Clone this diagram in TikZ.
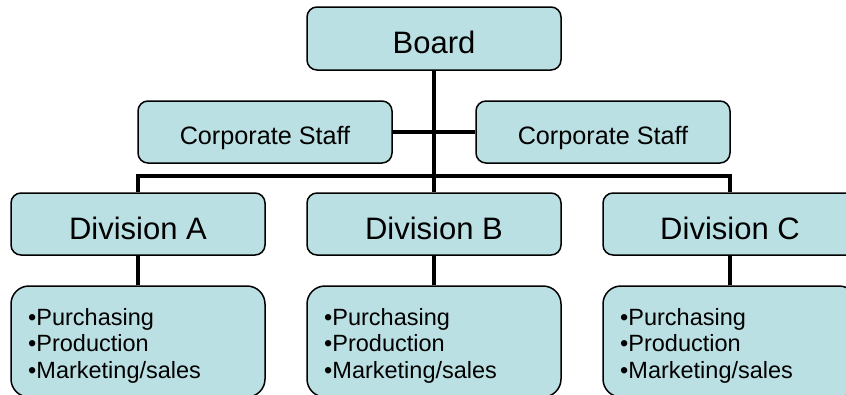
\documentclass[tikz,border=0pt]{standalone}
\usepackage{fontspec}
\setmainfont{Liberation Sans}
\definecolor{boxfill}{HTML}{BBE0E3}
\tikzset{
  unit/.style={draw=black, line width=1.5pt, fill=boxfill, rounded corners=10pt,
    minimum width=254pt, minimum height=62pt, inner sep=0pt},
  headunit/.style={unit, font=\fontsize{31}{37}\selectfont, text height=30pt, text depth=0pt},
  staffunit/.style={unit, font=\fontsize{25.2}{30}\selectfont, text height=24.6pt, text depth=0pt},
  duties/.style={unit, rounded corners=18pt, minimum height=111pt},
  dutytext/.style={anchor=north west, inner sep=0pt, align=left, font=\fontsize{23.5}{26.7}\selectfont},
  link/.style={line width=4.5pt, black},
}
\begin{document}
\begin{tikzpicture}[x=1pt,y=-1pt]
\useasboundingbox (0,0) rectangle (846,394);
\clip (0,0) rectangle (846,394);

\node[headunit, minimum height=63pt] (board) at (434,38.5) {Board};

\node[staffunit] (staffL) at (265,132) {Corporate Staff};
\node[staffunit] (staffR) at (603,132) {Corporate Staff};

\node[headunit] (divA) at (138,224) {Division A};
\node[headunit] (divB) at (434,224) {Division B};
\node[headunit] (divC) at (730,224) {Division C};

\node[duties] (listA) at (138,341.5) {};
\node[dutytext] (itemsA) at (28,307.8) {•Purchasing\\•Production\\•Marketing/sales};

\node[duties] (listB) at (434,341.5) {};
\node[dutytext] (itemsB) at (324,307.8) {•Purchasing\\•Production\\•Marketing/sales};

\node[duties] (listC) at (730,341.5) {};
\node[dutytext] (itemsC) at (620,307.8) {•Purchasing\\•Production\\•Marketing/sales};

\coordinate (bar) at (434,176);

\draw[link] (board.south) -- (divB.north);
\draw[link] (staffL.east) -- (staffR.west);
\draw[link] (divA.north) |- (bar) -| (divC.north);
\draw[link] (divA.south) -- (listA.north);
\draw[link] (divB.south) -- (listB.north);
\draw[link] (divC.south) -- (listC.north);
\end{tikzpicture}
\end{document}
